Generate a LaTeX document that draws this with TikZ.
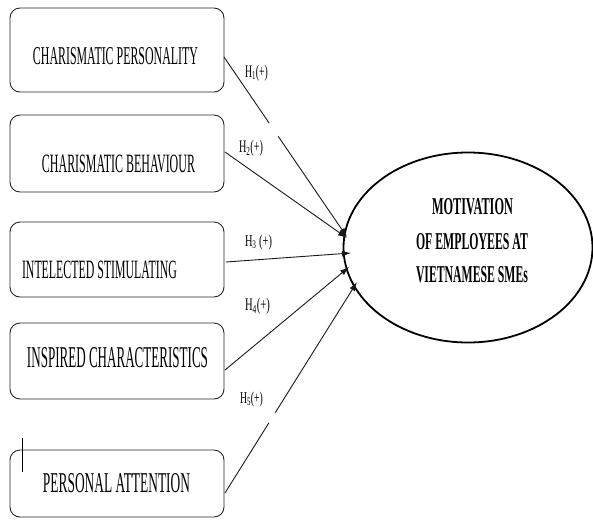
\documentclass[tikz,border=0pt]{standalone}
\usepackage{fontspec}
\setmainfont{Liberation Serif}
\usepackage{graphicx}
\usetikzlibrary{arrows.meta,calc}
\tikzset{
  box/.style={draw=black!85, line width=0.9pt, rounded corners=10pt, inner sep=0pt, minimum width=214pt},
  txt/.style={inner sep=0pt, outer sep=0pt},
  conn/.style={line width=0.9pt, draw=black!90},
  arr/.style={conn, -{Latex[length=9pt,width=6pt]}},
  ell/.style={draw=black, line width=1.8pt, ellipse, inner sep=0pt}
}
\begin{document}
\begin{tikzpicture}[x=1pt,y=-1pt]
\useasboundingbox (0,0) rectangle (593,519);
% boxes
\node[box, minimum height=84pt] (b1) at (117,50) {};
\node[box, minimum height=77pt] (b2) at (117,153.5) {};
\node[box, minimum height=75pt] (b3) at (117,259.5) {};
\node[box, minimum height=76pt] (b4) at (117,361) {};
\node[box, minimum height=67pt] (b5) at (117,483.5) {};
% box texts
\node[txt] (t1) at (115.5,56.5) {\resizebox{165pt}{17pt}{CHARISMATIC PERSONALITY}};
\node[txt] (t2) at (118.5,164) {\resizebox{153pt}{17.5pt}{CHARISMATIC BEHAVIOUR}};
\node[txt, anchor=west] (t3) at (22,269.5) {\resizebox{155pt}{17.5pt}{I{\fontsize{10}{12}\selectfont NTELECTED STIMULATING}}};
\node[txt] (t4) at (117.5,358) {\resizebox{181pt}{20pt}{INSPIRED CHARACTERISTICS}};
\node[txt] (t5) at (116.5,483.5) {\resizebox{147pt}{19pt}{PERSONAL ATTENTION}};
% cursor mark
\coordinate (c1) at (22,438);
\coordinate (c2) at (22,472);
\draw[line width=0.8pt] (c1) -- (c2);
% ellipse
\draw[black, line width=1.8pt] (468,247.5) ellipse [x radius=124.5pt, y radius=95pt];
\node[inner sep=0pt, minimum width=249pt, minimum height=190pt] (el) at (468,247.5) {};
\node[txt] (m1) at (472.5,207) {\resizebox{81pt}{16pt}{\bfseries MOTIVATION}};
\node[txt] (m2) at (472,242) {\resizebox{112pt}{16pt}{\bfseries OF EMPLOYEES AT}};
\node[txt] (m3) at (472,275) {\resizebox{112pt}{16pt}{\bfseries VIETNAMESE SMEs}};
% connectors
\coordinate (s1) at (224,57);
\coordinate (e1) at (347,237);
\coordinate (s2) at (225,152);
\coordinate (e2) at (347,238);
\coordinate (s3) at (226,262);
\coordinate (e3) at (351,253);
\coordinate (s4) at (225,370);
\coordinate (e4) at (349,267);
\coordinate (s5) at (225,493);
\coordinate (e5) at (357,282);
\coordinate (g1a) at ($(s1)!0.367!(e1)$);
\coordinate (g1b) at ($(s1)!0.44!(e1)$);
\coordinate (g5a) at ($(s5)!0.333!(e5)$);
\coordinate (g5b) at ($(s5)!0.381!(e5)$);
\draw[conn] (s1) -- (g1a);
\draw[arr] (g1b) -- (e1);
\draw[arr] (s2) -- (e2);
\draw[arr] (s3) -- (e3);
\draw[arr] (s4) -- (e4);
\draw[conn] (s5) -- (g5a);
\draw[arr] (g5b) -- (e5);
% labels
\node[txt] (h1) at (256.5,73) {\resizebox*{23pt}{16pt}{H\textsubscript{1}(+)}};
\node[txt] (h2) at (251,148.5) {\resizebox*{24pt}{16pt}{H\textsubscript{2}(+)}};
\node[txt] (h3) at (258.5,242.5) {\resizebox*{27pt}{15pt}{H\textsubscript{3} (+)}};
\node[txt] (h4) at (257.5,306.5) {\resizebox*{25pt}{16pt}{H\textsubscript{4}(+)}};
\node[txt] (h5) at (251.5,399.5) {\resizebox*{23pt}{15pt}{H\textsubscript{5}(+)}};
\end{tikzpicture}
\end{document}
